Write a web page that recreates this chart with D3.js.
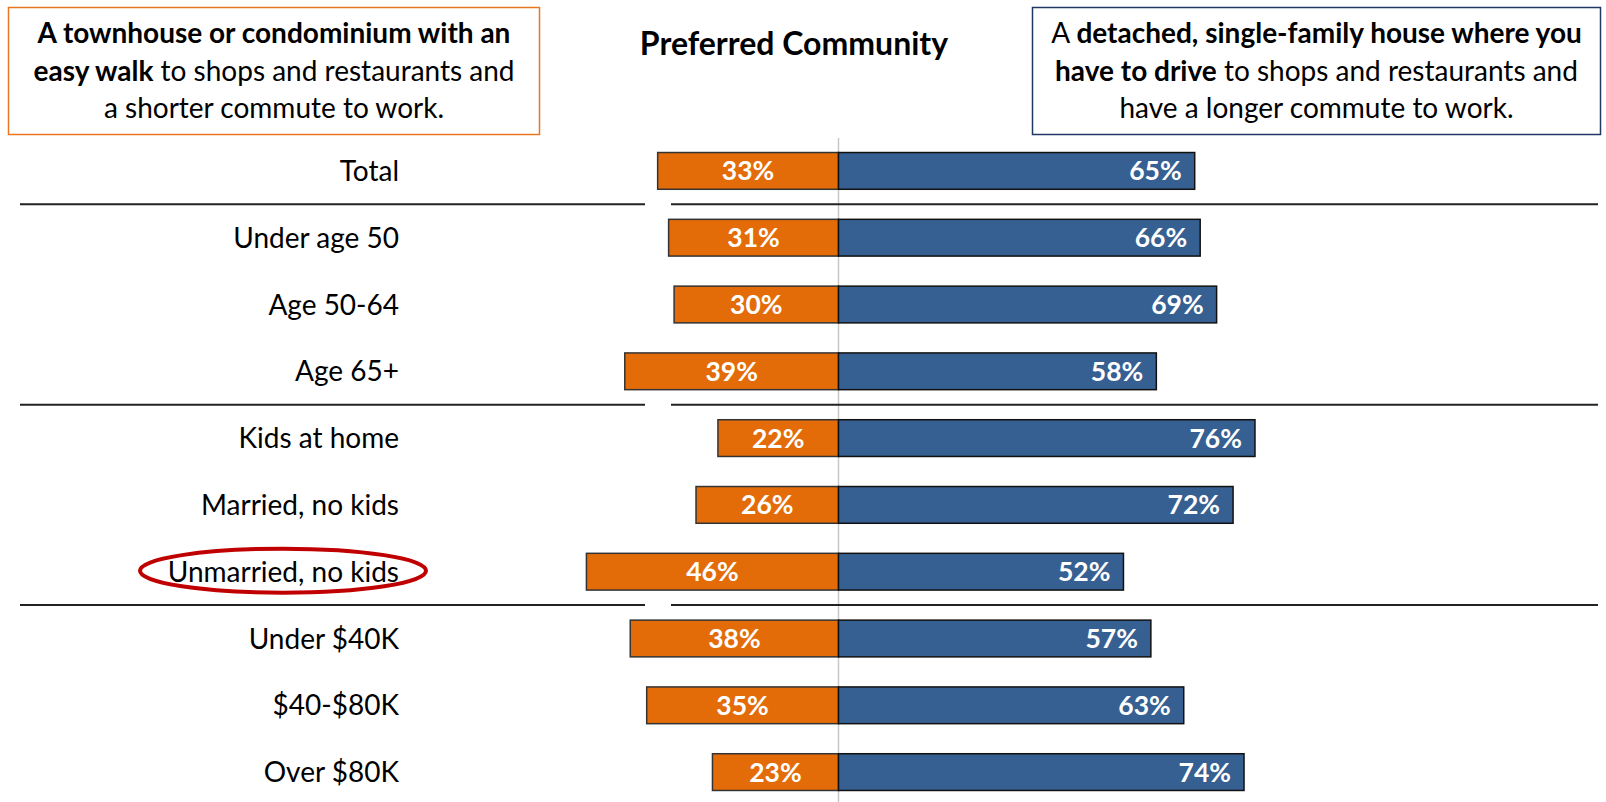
<!DOCTYPE html>
<html>
<head>
<meta charset="utf-8">
<script src="https://cdn.jsdelivr.net/npm/d3@7"></script>
<style>
  html, body { margin: 0; padding: 0; background: #fff; }
  svg { display: block; font-family: Lato, "Open Sans", sans-serif; }
</style>
</head>
<body>
<svg id="chart" width="1606" height="802"></svg>
<script>
// Preference for walkable vs. drive-to communities, by group
const categories = ["Total", "Under age 50", "Age 50-64", "Age 65+", "Kids at home",
  "Married, no kids", "Unmarried, no kids", "Under $40K", "$40-$80K", "Over $80K"];
const walkable = [33, 31, 30, 39, 22, 26, 46, 38, 35, 23];
const driving  = [65, 66, 69, 58, 76, 72, 52, 57, 63, 74];
// separators follow these rows
const groupEnds = [0, 3, 6];
const highlighted = "Unmarried, no kids";

const leftHeader = [
  [{t: "A townhouse or condominium with an", b: true}],
  [{t: "easy walk", b: true}, {t: " to shops and restaurants and", b: false}],
  [{t: "a shorter commute to work.", b: false}]
];
const rightHeader = [
  [{t: "A ", b: false}, {t: "detached, single-family house where you", b: true}],
  [{t: "have to drive", b: true}, {t: " to shops and restaurants and", b: false}],
  [{t: "have a longer commute to work.", b: false}]
];
const title = "Preferred Community";

const ORANGE = "#E36C09", BLUE = "#376092";

const svg = d3.select("#chart");
const cx = 838.5;

const y = d3.scaleBand().domain(categories).range([137.5, 805.5]).paddingInner(0.45).paddingOuter(0.225);
const xR = d3.scaleLinear().domain([0, 100]).range([cx, cx + 548]);
const xL = d3.scaleLinear().domain([0, 100]).range([cx, cx - 548]);

// header boxes
function headerBox(x0, w, stroke, lines) {
  svg.append("rect").attr("x", x0).attr("y", 7.5).attr("width", w).attr("height", 127)
    .attr("fill", "#fff").attr("stroke", stroke).attr("stroke-width", 1.5);
  const t = svg.append("text").attr("text-anchor", "middle").attr("font-size", 28).attr("fill", "#000");
  lines.forEach((ln, i) => {
    const line = t.append("tspan").attr("x", x0 + w / 2).attr("y", 43 + i * 37.5);
    ln.forEach((seg, j) => {
      const s = j === 0 ? line : t.append("tspan");
      s.attr("font-weight", seg.b ? 700 : 400).text(seg.t);
    });
  });
}
headerBox(8.5, 531, "#E87722", leftHeader);
headerBox(1032.5, 568, "#1F3864", rightHeader);

svg.append("text").attr("x", 794).attr("y", 55).attr("text-anchor", "middle")
  .attr("font-size", 32).attr("font-weight", 700).attr("fill", "#000").text(title);

// centre line
svg.append("line").attr("x1", cx).attr("x2", cx).attr("y1", 138).attr("y2", 802)
  .attr("stroke", "#c8c8c8").attr("stroke-width", 1.5);

// group separators
const step = y.step();
groupEnds.forEach(i => {
  const yy = y(categories[i]) + y.bandwidth() + (step - y.bandwidth()) / 2;
  svg.append("line").attr("x1", 20).attr("x2", 645).attr("y1", yy).attr("y2", yy)
    .attr("stroke", "#222").attr("stroke-width", 2);
  svg.append("line").attr("x1", 671).attr("x2", 1598).attr("y1", yy).attr("y2", yy)
    .attr("stroke", "#222").attr("stroke-width", 2);
});

const rows = svg.append("g").selectAll("g").data(categories).join("g");

// walkable bars (left)
rows.append("rect")
  .attr("x", (d, i) => xL(walkable[i])).attr("y", d => y(d))
  .attr("width", (d, i) => cx - xL(walkable[i])).attr("height", y.bandwidth())
  .attr("fill", ORANGE).attr("stroke", "#333").attr("stroke-width", 1.5);

// drive bars (right)
rows.append("rect")
  .attr("x", cx).attr("y", d => y(d))
  .attr("width", (d, i) => xR(driving[i]) - cx).attr("height", y.bandwidth())
  .attr("fill", BLUE).attr("stroke", "#111").attr("stroke-width", 1.5);

// value labels
rows.append("text")
  .attr("x", (d, i) => (xL(walkable[i]) + cx) / 2).attr("y", d => y(d) + y.bandwidth() / 2)
  .attr("dy", "0.36em").attr("text-anchor", "middle")
  .attr("font-size", 26.5).attr("font-weight", 700).attr("fill", "#fff")
  .text((d, i) => walkable[i] + "%");
rows.append("text")
  .attr("x", (d, i) => xR(driving[i]) - 13).attr("y", d => y(d) + y.bandwidth() / 2)
  .attr("dy", "0.36em").attr("text-anchor", "end")
  .attr("font-size", 26.5).attr("font-weight", 700).attr("fill", "#fff")
  .text((d, i) => driving[i] + "%");

// category labels
rows.append("text")
  .attr("x", 399).attr("y", d => y(d) + y.bandwidth() / 2)
  .attr("dy", "0.36em").attr("text-anchor", "end")
  .attr("font-size", 28).attr("fill", "#000")
  .text(d => d);

// highlight ring
svg.append("ellipse")
  .attr("cx", 283).attr("cy", y(highlighted) + y.bandwidth() / 2 - 1)
  .attr("rx", 143).attr("ry", 22)
  .attr("fill", "none").attr("stroke", "#C00000").attr("stroke-width", 4);
</script>
</body>
</html>
